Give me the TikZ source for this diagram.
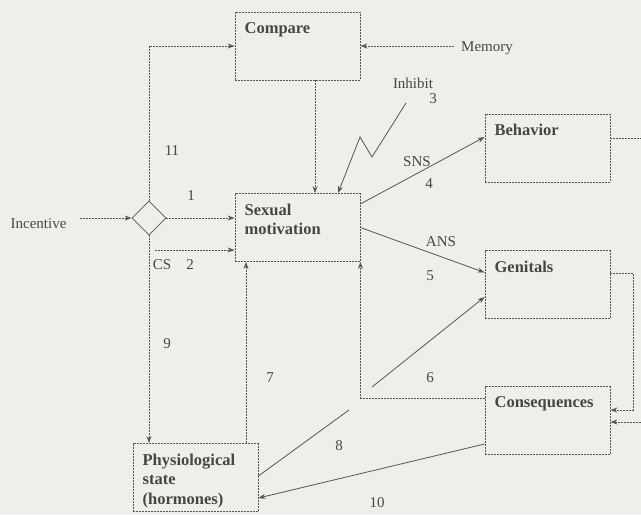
\documentclass[tikz,border=0pt]{standalone}
\usepackage{fontspec}
\setmainfont{Liberation Serif}
\usetikzlibrary{arrows.meta,shapes.geometric}

\definecolor{paper}{RGB}{238,238,235}
\definecolor{ink}{RGB}{85,85,85}
\definecolor{inktext}{RGB}{70,70,70}

\tikzset{
  dashline/.style={dash pattern=on 2pt off 1pt},
  link/.style={draw=ink, line width=0.8pt},
  tip/.style={-{Stealth[length=7pt,width=5pt]}},
  box/.style={draw=ink, line width=0.8pt, dashline, minimum width=125pt, minimum height=68pt, inner sep=0pt},
  title/.style={anchor=north west, font=\fontsize{16.5}{19.5}\selectfont\bfseries, text=inktext, align=left, xshift=6.5pt, yshift=-7pt},
  lbl/.style={font=\fontsize{15}{18}\selectfont, text=inktext},
}

\begin{document}
\begin{tikzpicture}[x=1pt, y=-1pt]
  % paper
  \fill[paper] (0,0) rectangle (641,515);
  \useasboundingbox (0,0) rectangle (641,515);

  % the boxes
  \node (cmp) [box, label={[title]north west:Compare}] at (297.5,46) {};
  \node (sm) [box, label={[title]north west:Sexual\\motivation}] at (297.5,227.5) {};
  \node (beh) [box, label={[title]north west:Behavior}] at (547.5,148) {};
  \node (gen) [box, label={[title]north west:Genitals}] at (547.5,284.5) {};
  \node (con) [box, label={[title]north west:Consequences}] at (547.5,420.5) {};
  \node (phys) [box, label={[title]north west:Physiological\\state\\(hormones)}] at (195.5,477.5) {};

  % gate for the incentive
  \node (gate) [diamond, draw=ink, line width=0.8pt, minimum width=34pt, minimum height=34pt, inner sep=0pt] at (149,218) {};

  % outside texts
  \node[lbl] (inc) at (38.5,224) {Incentive};
  \node[lbl] (mem) at (487,48) {Memory};
  \node[lbl] (inh) at (413,83) {Inhibit};
  \node[lbl] (sns) at (417,162) {SNS};
  \node[lbl] (ans) at (441,242) {ANS};
  \node[lbl] (cs) at (162,265) {CS};

  % path numbers
  \node[lbl] (n1) at (191,196) {1};
  \node[lbl] (n2) at (190,265) {2};
  \node[lbl] (n3) at (433,99) {3};
  \node[lbl] (n4) at (429,184) {4};
  \node[lbl] (n5) at (430,276) {5};
  \node[lbl] (n6) at (430,378) {6};
  \node[lbl] (n7) at (270,378) {7};
  \node[lbl] (n8) at (339,446) {8};
  \node[lbl] (n9) at (167,344) {9};
  \node[lbl] (n10) at (377,503) {10};
  \node[lbl] (n11) at (172,151) {11};

  % free ends
  \coordinate (csin) at (155,250);
  \coordinate (zap) at (406,103);
  \coordinate (k6) at (372,387);
  \coordinate (k8) at (349,410);
  \coordinate (rin) at (641,422);
  \coordinate (rout) at (641,138);

  % dashed connectors
  \draw[link, dashline, tip, shorten <=10pt] (inc.east |- gate.west) -- (gate.west);
  \draw[link, dashline, tip] (gate.east) -- (gate.east -| sm.west);
  \draw[link, dashline, tip] (csin) -- (csin -| sm.west);
  \draw[link, dashline, tip] (gate.north) |- (cmp.west);
  \draw[link, dashline, tip] (gate.south) -- (gate.south |- phys.north);
  \draw[link, dashline, tip] ([xshift=17.5pt]cmp.south) -- ([xshift=17.5pt]sm.north);
  \draw[link, dashline, tip, shorten <=4pt] (mem.west |- cmp.east) -- (cmp.east);
  \draw[link, dashline, tip] ([xshift=50.5pt]phys.north) -- ([xshift=50.5pt]phys.north |- sm.south);
  \draw[link, dashline, tip] ([yshift=22.5pt]con.west) -| (sm.south east);
  \draw[link, dashline, tip] ([yshift=11.5pt]gen.east) -- ++(23,0) |- ([yshift=10.5pt]con.east);
  \draw[link, dashline, tip] (rin) -- (rin -| con.east);
  \draw[link, dashline] (rout -| beh.east) -- (rout);

  % solid connectors
  \draw[link, tip] (zap) -- (372,157) -- (360,137) -- ([xshift=40.5pt]sm.north);
  \draw[link, tip] ([yshift=23.5pt]sm.east) -- ([yshift=11pt]beh.west);
  \draw[link, tip] (sm.east) -- ([yshift=12pt]gen.west);
  \draw[link, tip] (k6) -- ([yshift=-12.5pt]gen.west);
  \draw[link] ([yshift=1.5pt]phys.east) -- (k8);
  \draw[link, tip] ([yshift=-23.5pt]con.west) -- ([yshift=-20.5pt]phys.east);
\end{tikzpicture}
\end{document}
